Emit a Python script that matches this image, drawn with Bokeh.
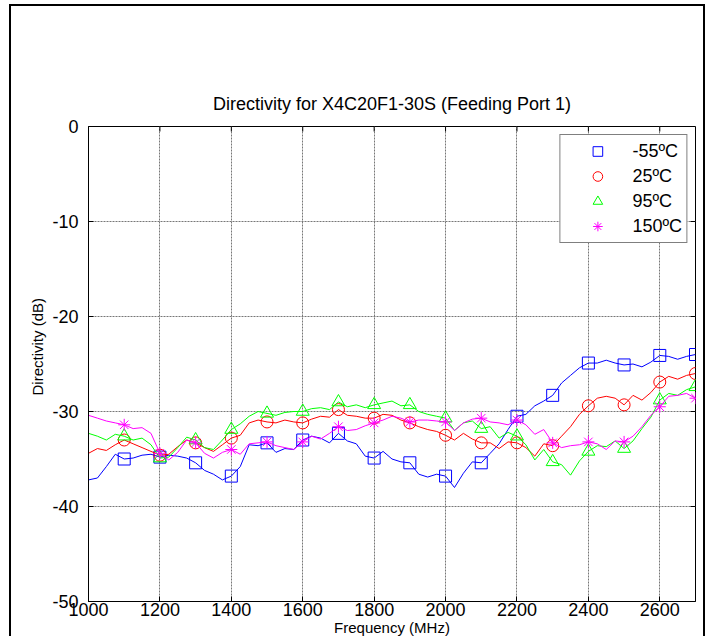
import math
from bokeh.plotting import figure
from bokeh.models import Legend, LegendItem, Range1d, FixedTicker, PrintfTickFormatter, Title
from bokeh.embed import file_html
from bokeh.resources import INLINE

# Frequency grid (MHz)
freq = list(range(1000, 2701, 25))

m55 = [-37.2, -37.0, -35.8, -34.5, -35.0, -34.9, -34.6, -34.5, -34.8, -34.6,
       -34.7, -34.9, -35.4, -36.2, -36.6, -37.2, -36.8, -35.8, -33.5, -33.6,
       -33.3, -34.3, -33.9, -34.0, -33.0, -32.6, -32.8, -33.3, -32.3, -33.1,
       -33.4, -34.7, -34.9, -34.2, -35.0, -35.3, -35.4, -36.6, -36.9, -36.6,
       -36.8, -38.0, -36.5, -35.3, -35.4, -34.4, -33.4, -31.9, -30.5, -30.3,
       -29.4, -28.9, -28.3, -27.0, -26.2, -25.4, -24.9, -24.9, -24.6, -24.9,
       -25.1, -25.0, -25.3, -24.8, -24.1, -24.2, -24.5, -24.2, -24.0]

p25 = [-34.4, -33.9, -34.1, -33.5, -33.0, -33.4, -33.8, -34.2, -34.6, -34.5,
       -33.7, -33.0, -33.3, -33.8, -34.2, -33.5, -32.8, -32.5, -31.2, -30.9,
       -31.1, -31.2, -30.9, -31.1, -31.2, -30.8, -30.5, -30.6, -29.8, -30.4,
       -30.5, -30.7, -30.7, -30.3, -30.4, -30.9, -31.2, -31.6, -31.9, -32.1,
       -32.5, -33.0, -32.3, -32.9, -33.3, -33.3, -33.9, -33.2, -33.3, -33.8,
       -34.7, -33.4, -33.6, -32.6, -31.6, -30.3, -29.4, -28.6, -28.4, -28.6,
       -29.3, -28.3, -28.8, -28.0, -26.9, -26.3, -26.6, -26.2, -26.0]

p95 = [-32.3, -32.6, -33.0, -32.4, -32.6, -33.0, -32.8, -33.5, -34.9, -34.8,
       -33.8, -32.7, -33.0, -33.8, -34.0, -33.0, -31.9, -31.3, -30.5, -30.0,
       -30.2, -30.4, -30.1, -30.0, -30.0, -29.7, -29.6, -29.8, -29.0, -29.5,
       -29.3, -29.6, -29.3, -29.1, -28.9, -29.4, -29.3, -30.0, -30.3, -30.5,
       -30.7, -32.0, -31.2, -31.0, -31.8, -31.6, -32.8, -32.2, -32.6, -33.5,
       -35.1, -34.0, -35.3, -35.6, -36.7, -35.2, -34.2, -33.6, -33.7, -33.1,
       -33.9, -33.1, -31.8, -30.6, -28.8, -28.1, -28.3, -27.7, -27.4]

p150 = [-30.4, -30.7, -31.0, -31.2, -31.4, -31.8, -31.7, -32.3, -34.4, -35.1,
        -34.3, -33.0, -33.3, -34.4, -34.9, -34.3, -34.0, -34.5, -33.4, -33.3,
        -33.2, -33.6, -33.8, -34.0, -33.2, -32.6, -32.9, -32.3, -31.6, -32.0,
        -31.9, -31.5, -31.2, -30.9, -30.5, -30.7, -31.1, -30.9, -30.9, -31.0,
        -31.1, -32.0, -31.2, -30.8, -30.7, -31.1, -31.2, -31.4, -30.9, -31.4,
        -32.4, -31.9, -33.3, -33.8, -33.6, -33.5, -33.2, -33.4, -34.0, -33.1,
        -33.2, -32.6, -31.6, -30.4, -29.5, -28.4, -28.3, -28.1, -28.6]

labels = ["-55\u00baC", "25\u00baC", "95\u00baC", "150\u00baC"]
colors = ["#0000FF", "#FF0000", "#00FF00", "#FF00FF"]
markers = ["square", "circle", "triangle", "asterisk"]
msizes = [12, 12, 13, 12]
x_ticks = [1000, 1200, 1400, 1600, 1800, 2000, 2200, 2400, 2600]
y_ticks = [-50, -40, -30, -20, -10, 0]
X_MIN, X_MAX, Y_MIN, Y_MAX = 1000, 2700, -50, 0

FONT = "Liberation Sans"

p = figure(width=696, height=632, output_backend="svg", toolbar_location=None,
           x_range=Range1d(X_MIN, X_MAX), y_range=Range1d(Y_MIN, Y_MAX),
           min_border_left=77, min_border_right=12, min_border_top=120,
           min_border_bottom=37,
           title="Directivity for X4C20F1-30S (Feeding Port 1)")
p.styles = {"margin-left": "9px", "margin-top": "4px",
            "border-top": "2px solid black", "border-left": "2px solid black",
            "border-right": "2px solid black"}

p.title.align = "center"
p.title.text_font = FONT
p.title.text_font_size = "18px"
p.title.text_font_style = "normal"
p.title.text_color = "black"
p.title.standoff = 26

p.outline_line_color = "black"
p.outline_line_alpha = 1

for ax in (p.xaxis[0], p.yaxis[0]):
    ax.major_label_text_font = FONT
    ax.major_label_text_font_size = "18px"
    ax.major_label_text_color = "black"
    ax.axis_label_text_font = FONT
    ax.axis_label_text_font_size = "15px"
    ax.axis_label_text_font_style = "normal"
    ax.axis_label_text_color = "black"
    ax.major_tick_in = 5
    ax.major_tick_out = 0
    ax.minor_tick_in = 0
    ax.minor_tick_out = 0
    ax.axis_line_color = "black"
    ax.major_tick_line_color = "black"
    ax.formatter = PrintfTickFormatter(format="%d")

p.xaxis[0].ticker = FixedTicker(ticks=x_ticks)
p.yaxis[0].ticker = FixedTicker(ticks=y_ticks)
p.xaxis[0].axis_label = "Frequency (MHz)"
p.xaxis[0].major_label_standoff = 1
p.xaxis[0].axis_label_standoff = 0
p.yaxis[0].major_label_standoff = 10

ylab = Title(text="Directivity (dB)", align="left", offset=206, standoff=8,
             text_font=FONT, text_font_size="15px", text_font_style="normal",
             text_color="black")
p.add_layout(ylab, "left")

# ticks on the top and right edges of the box
p.ray(x=x_ticks, y=[Y_MAX] * len(x_ticks), length=5, length_units="screen",
      angle=-math.pi / 2, line_color="black", line_width=1)
p.ray(x=[X_MAX] * len(y_ticks), y=y_ticks, length=5, length_units="screen",
      angle=math.pi, line_color="black", line_width=1)

p.xgrid.ticker = FixedTicker(ticks=x_ticks)
p.ygrid.ticker = FixedTicker(ticks=y_ticks)
for g in (p.xgrid[0], p.ygrid[0]):
    g.grid_line_color = "#777777"
    g.grid_line_dash = "2 1"
    g.grid_line_width = 1

items = []
for vals, lab, col, mk, ms in zip([m55, p25, p95, p150], labels, colors, markers, msizes):
    p.line(freq, vals, line_color=col, line_width=1)
    r = p.scatter(freq[4::4], vals[4::4], marker=mk, size=ms, fill_color=None,
                  line_color=col, line_width=1)
    items.append(LegendItem(label=lab, renderers=[r]))

legend = Legend(items=items, location="top_right")
legend.margin = 8
legend.padding = 4
legend.spacing = 1
legend.glyph_width = 66
legend.glyph_height = 24
legend.label_height = 24
legend.label_standoff = 2
legend.label_text_font = FONT
legend.label_text_font_size = "18px"
legend.label_text_color = "black"
legend.border_line_color = "black"
legend.border_line_width = 1
legend.background_fill_color = "white"
legend.background_fill_alpha = 1
p.add_layout(legend)

open("out.html", "w").write(file_html(p, INLINE))
